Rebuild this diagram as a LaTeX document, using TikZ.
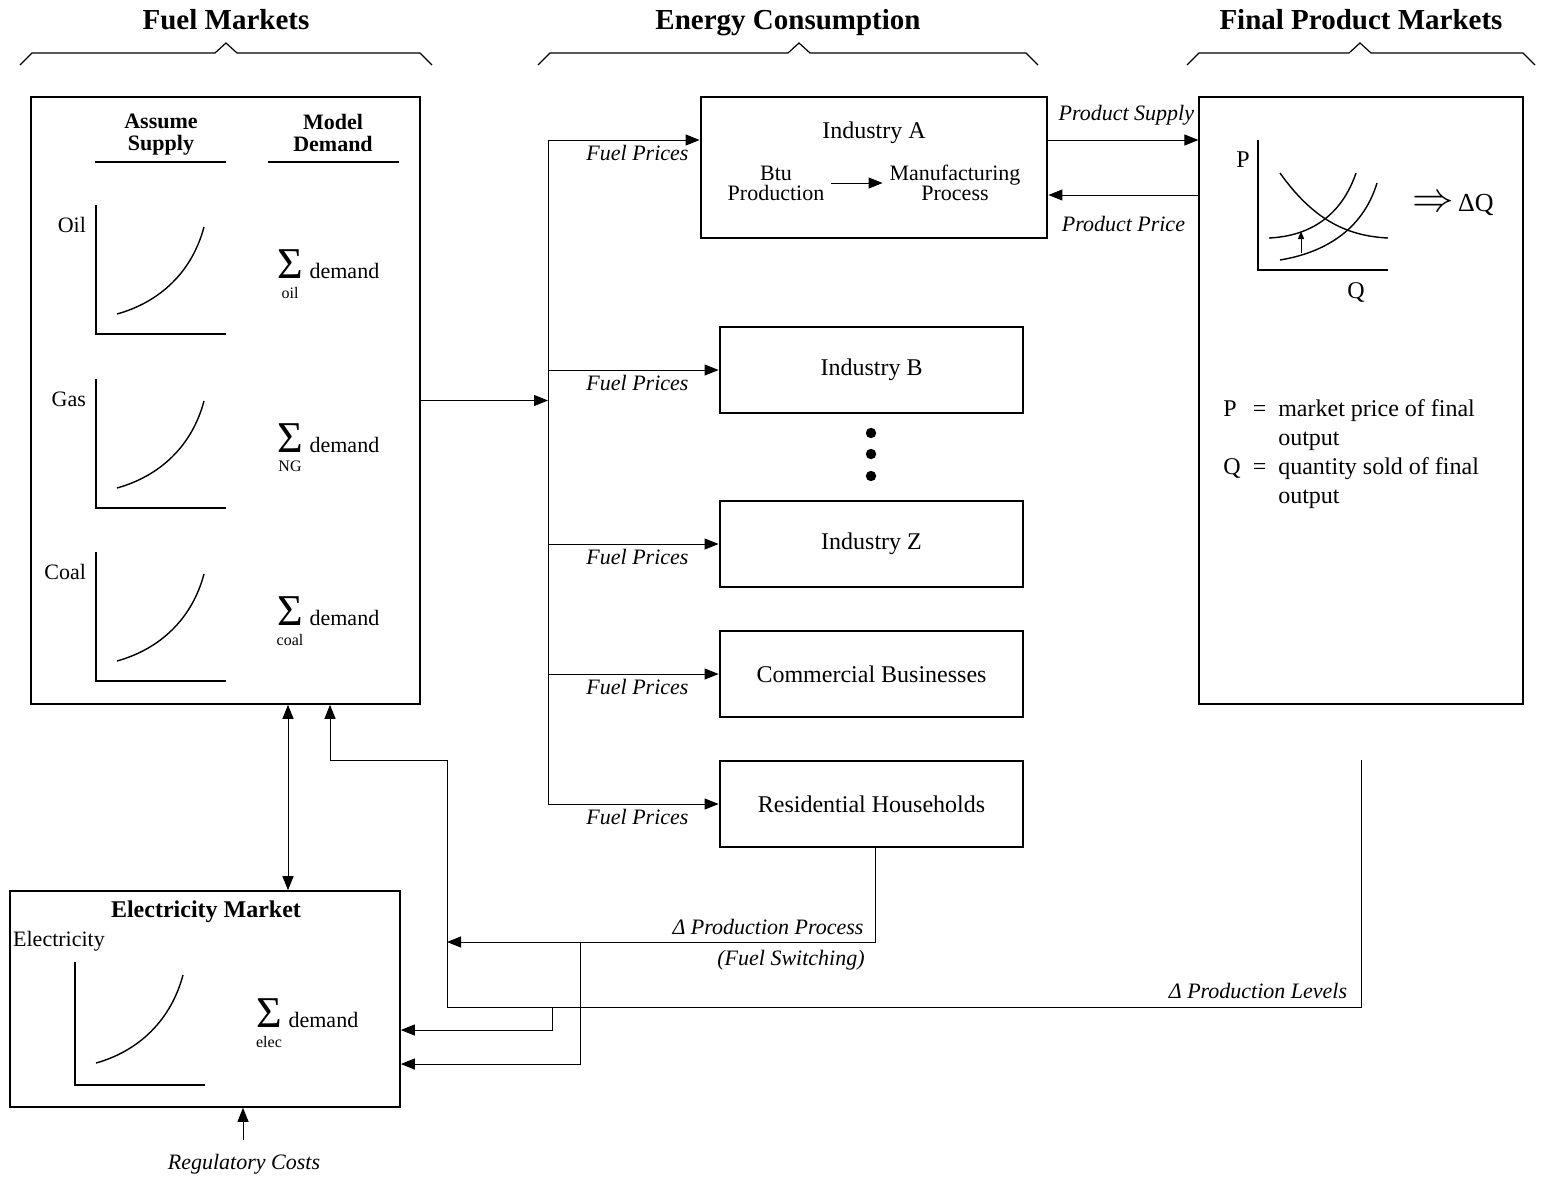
\documentclass[tikz,border=0pt]{standalone}
\usepackage{fontspec}
\setmainfont{Liberation Serif}
\usetikzlibrary{positioning}
\usetikzlibrary{arrows.meta}

% sigma with a subscript and the word demand
\newcommand{\sumdemand}[4]{%
  \node (sg#4) [inner sep=0, font=\fontsize{22}{22}\selectfont] at (#1,#2) {Σ};
  \node [anchor=north, inner sep=0, yshift=-4pt, font=\fontsize{8}{8}\selectfont] at (sg#4.south) {#3};
  \node (dm#4) [anchor=base west, inner sep=0, xshift=3pt] at (sg#4.base east) {demand};}

\tikzset{
  arr/.style={-{Triangle[length=7pt,width=5.5pt]}, line width=0.5pt},
  indbox/.style={draw, line width=1.4pt, minimum width=151.5pt, minimum height=43pt, font=\fontsize{12}{14}\selectfont},
  flow/.style={font=\itshape\fontsize{11}{13}\selectfont},
  head/.style={anchor=base, font=\bfseries\fontsize{14.5}{16}\selectfont}
}

\begin{document}
\begin{tikzpicture}[x=0.5pt, y=-0.5pt, font=\fontsize{11}{13}\selectfont]
 \useasboundingbox (0,0) rectangle (1545,1179);

 % headings and braces
 \node (tfuel) [head] at (226,29) {Fuel Markets};
 \node (tener) [head] at (788,29) {Energy Consumption};
 \node (tfinal) [head] at (1361,29) {Final Product Markets};
 \foreach \a/\b/\c in {20/226/432, 538/799/1038, 1187/1360/1535}
  \draw [line width=0.6pt] (\a,65) -- (\a+12,53) -- (\b-11,53) -- (\b,43) -- (\b+11,53) -- (\c-12,53) -- (\c,65);

 % fuel markets
 \node (fuel) [draw, line width=0.8pt, minimum width=194.5pt, minimum height=303.5pt, inner sep=0] at (225.5,400.5) {};
 \node (assume) [anchor=north, align=center, font=\bfseries\fontsize{11}{11}\selectfont] at (161,107) {Assume\\Supply};
 \node (model) [anchor=north, align=center, font=\bfseries\fontsize{11}{11}\selectfont] at (333,107) {Model\\Demand};
 \draw [line width=0.8pt] (95,162) -- (226,162);
 \draw [line width=0.8pt] (268,162) -- (399,162);
 \foreach \lbl/\dy/\sub in {Oil/0/oil, Gas/174/NG, Coal/347/coal} {
  \begin{scope}[shift={(0,\dy)}]
   \node (l\sub) [anchor=east] at (93,225) {\lbl};
   \draw [line width=0.7pt] (96,205) -- (96,334) -- (226,334);
   \draw [line width=0.7pt] (117,314) .. controls (160,302) and (192,272) .. (204,227);
   \sumdemand{290}{264}{\sub}{\sub}
  \end{scope}
 }

 % energy consumption
 \node (indA) [indbox, minimum width=173pt, minimum height=70.5pt] at (874,167.5) {};
 \node (nameA) [font=\fontsize{12}{14}\selectfont] at (874,133) {Industry A};
 \node (btu) [align=center, font=\fontsize{11}{10}\selectfont] at (776,183) {Btu\\Production};
 \node (mfg) [align=center, font=\fontsize{11}{10}\selectfont] at (955,183) {Manufacturing\\Process};
 \draw [arr] (btu.east) -- (mfg.west);
 \node (indB) [indbox] at (871.5,370) {Industry B};
 \node (indZ) [indbox] at (871.5,544) {Industry Z};
 \node (comm) [indbox] at (871.5,674) {Commercial Businesses};
 \node (resi) [indbox] at (871.5,804) {Residential Households};
 \foreach \y in {433,454,476}
  \fill (871,\y) circle (2.6pt);

 \coordinate (bus) at (548,400.5);
 \coordinate (busA) at (548,140);
 \draw [arr] (fuel.east) -- (bus);
 \draw [line width=0.5pt] (busA) -- (bus |- resi.west);
 \draw [arr] (busA) -- (busA -| indA.west) node [flow, below left, xshift=-2pt, yshift=1pt] {Fuel Prices};
 \foreach \n in {indB, indZ, comm, resi}
  \draw [arr] (bus |- \n.west) -- (\n.west) node [flow, below left, xshift=-11.5pt, yshift=1pt] {Fuel Prices};

 % final product markets
 \node (final) [draw, line width=0.6pt, minimum width=162pt, minimum height=303.5pt, inner sep=0] at (1361,400.5) {};
 \draw [arr] ([yshift=13.75pt]indA.east) -- ([yshift=13.75pt]indA.east -| final.west)
   node [flow, midway, above, yshift=4pt, xshift=1.5pt] {Product Supply};
 \draw [arr] ([yshift=-13.75pt]indA.east -| final.west) -- ([yshift=-13.75pt]indA.east)
   node [flow, midway, below, yshift=-7pt] {Product Price};
 \node (P) [font=\fontsize{12}{14}\selectfont] at (1243,160) {P};
 \node (Q) [font=\fontsize{12}{14}\selectfont] at (1356,292) {Q};
 \draw [line width=0.7pt] (1258,140) -- (1258,270) -- (1388,270);
 \draw [line width=0.7pt] (1280,173) .. controls (1312,218) and (1345,236) .. (1388,238);
 \draw [line width=0.7pt] (1269,238) .. controls (1312,236) and (1342,214) .. (1356,173);
 \draw [line width=0.7pt] (1280,260) .. controls (1322,253) and (1362,232) .. (1377,183);
 \draw [-{Triangle[length=4pt,width=3pt]}, line width=0.5pt] (1301,253) -- (1301,231);
 \node (dQ) [font=\fontsize{13}{14}\selectfont] at (1453,205) {{\fontsize{21}{21}\selectfont$\Rightarrow$}\,ΔQ};
 \node (defs) [anchor=north west, inner sep=0, font=\fontsize{12}{14.5}\selectfont] at (1223,396) {%
  \begin{tabular}{@{}l@{\ \ }c@{\ \ }l@{}}
   P & = & market price of final\\
     &   & output\\
   Q & = & quantity sold of final\\
     &   & output
  \end{tabular}};

 % electricity market
 \node (elec) [draw, line width=0.8pt, minimum width=195pt, minimum height=108pt, inner sep=0] at (205,999) {};
 \node (telec) [font=\bfseries\fontsize{12}{14}\selectfont] at (206,912) {Electricity Market};
 \node (lelec) at (59,941) {Electricity};
 \draw [line width=0.7pt] (75,962) -- (75,1085) -- (205,1085);
 \draw [line width=0.7pt] (96,1063) .. controls (139,1051) and (171,1020) .. (183,975);
 \sumdemand{269}{1013}{elec}{elec}
 \draw [{Triangle[length=7pt,width=5.5pt]}-{Triangle[length=7pt,width=5.5pt]}, line width=0.5pt]
   (fuel.south -| 288,0) -- (elec.north -| 288,0);

 % feedback
 \coordinate (lev) at (1361,760);
 \draw [arr] (lev) |- (447,1007) |- (330,760) -- (fuel.south -| 330,0);
 \node (tlev) [flow] at (1258,991) {Δ Production Levels};
 \draw [arr] (552,1007) |- ([yshift=-15.5pt]elec.east);
 \draw [arr] (resi.south -| 875,0) |- (447,942);
 \node (tproc) [flow] at (768,927) {Δ Production Process};
 \node (tswitch) [flow] at (791,960) {(Fuel Switching)};
 \draw [arr] (580,942) |- ([yshift=-32.5pt]elec.east);
 \coordinate (reg) at (243,1140);
 \draw [arr] (reg) -- (elec.south -| reg);
 \node (treg) [flow] at (244,1164) {Regulatory Costs};
\end{tikzpicture}
\end{document}
